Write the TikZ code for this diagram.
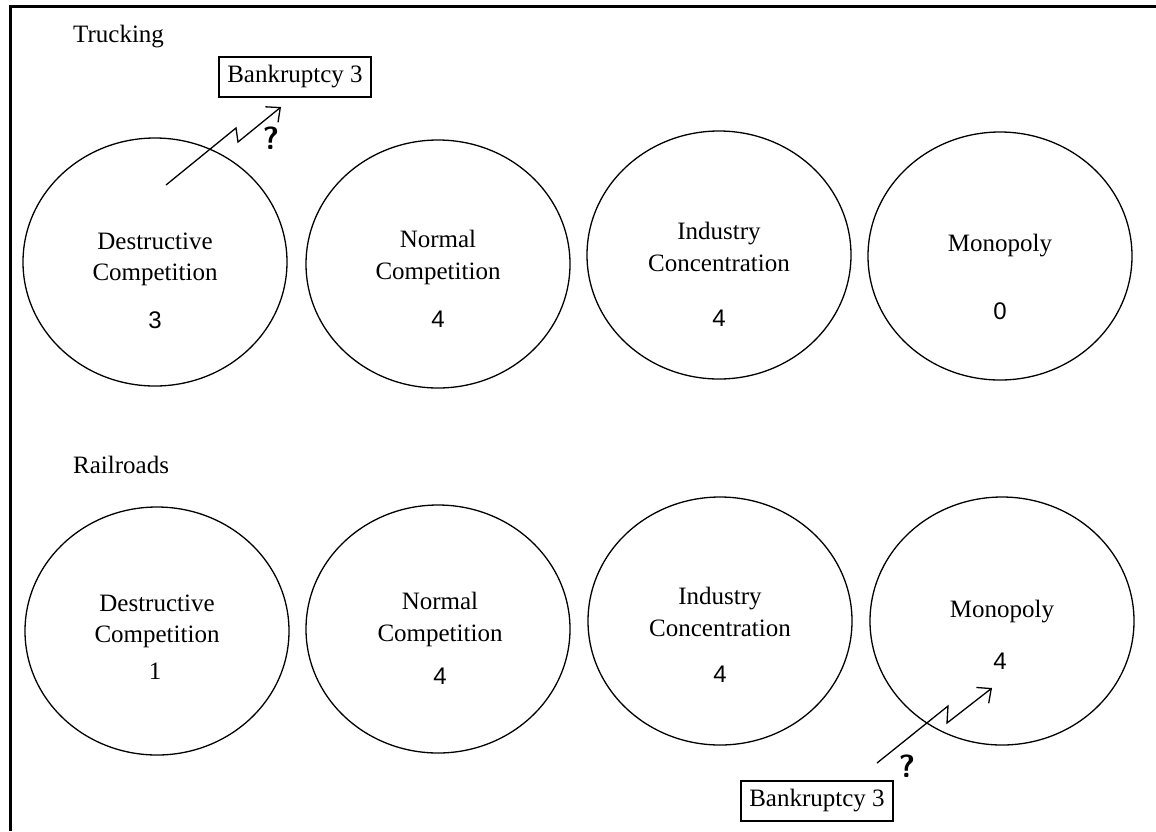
\documentclass[tikz,border=0pt]{standalone}
\usepackage{fontspec}
\setmainfont{Liberation Serif}
\newfontfamily\numfont{Liberation Sans}
\usetikzlibrary{shapes.geometric,arrows.meta}
\begin{document}
\begin{tikzpicture}[x=1pt,y=-1pt,
 market/.style={draw, ellipse, line width=1.3pt, minimum width=264pt, minimum height=248pt, inner sep=0pt},
 lbl/.style={font=\fontsize{25}{28}\selectfont, anchor=base, inner sep=0pt},
 num/.style={font=\numfont\fontsize{24}{28}\selectfont, anchor=base, inner sep=0pt},
 snum/.style={font=\fontsize{25}{28}\selectfont, anchor=base, inner sep=0pt},
 bbox/.style={draw, line width=1.3pt, minimum width=152pt, minimum height=40pt, font=\fontsize{25}{28}\selectfont, inner sep=0pt},
 bolt/.style={line width=1.3pt, -{Straight Barb[length=11pt,width=20pt,line width=1.3pt]}},
 qm/.style={font=\sffamily\bfseries\fontsize{32}{34}\selectfont, inner sep=0pt},
 section/.style={font=\fontsize{25}{28}\selectfont, anchor=base west, inner sep=0pt}
]
\useasboundingbox (0,0) rectangle (1156,831);
\coordinate (fr1) at (1156,6);
\coordinate (fr2) at (10.5,6);
\coordinate (fr3) at (10.5,831);
\draw[line width=3pt] (fr1) -- (fr2) -- (fr3);

% section titles
\node[section] (truck) at (73,42) {Trucking};
\node[section] (rail) at (73,473) {Railroads};

% top row
\node[market] (c1) at (155,262) {};
\node[market] (c2) at (438,264) {};
\node[market] (c3) at (719,255) {};
\node[market] (c4) at (1000,256) {};

\node[lbl] (c1a) at (155,249) {Destructive};
\node[lbl] (c1b) at (155,280) {Competition};
\node[num] (c1n) at (155,328) {3};

\node[lbl] (c2a) at (438,247) {Normal};
\node[lbl] (c2b) at (438,279) {Competition};
\node[num] (c2n) at (438,327) {4};

\node[lbl] (c3a) at (719,239) {Industry};
\node[lbl] (c3b) at (719,271) {Concentration};
\node[num] (c3n) at (719,326) {4};

\node[lbl] (c4a) at (1000,251) {Monopoly};
\node[num] (c4n) at (1000,319) {0};

% bottom row
\node[market] (d1) at (157,631) {};
\node[market] (d2) at (438,629) {};
\node[market] (d3) at (720,621) {};
\node[market] (d4) at (1002,621) {};

\node[lbl] (d1a) at (157,611) {Destructive};
\node[lbl] (d1b) at (157,642) {Competition};
\node[snum] (d1n) at (155,679) {1};

\node[lbl] (d2a) at (440,609) {Normal};
\node[lbl] (d2b) at (440,641) {Competition};
\node[num] (d2n) at (440,684) {4};

\node[lbl] (d3a) at (720,604) {Industry};
\node[lbl] (d3b) at (720,636) {Concentration};
\node[num] (d3n) at (720,682) {4};

\node[lbl] (d4a) at (1002,617) {Monopoly};
\node[num] (d4n) at (1000,669) {4};

% bankruptcy boxes
\node[bbox] (bk1) at (295,77) {Bankruptcy 3};
\node[bbox] (bk2) at (817,801) {Bankruptcy 3};

% lightning arrows
\coordinate (a0) at (166,185);
\coordinate (a1) at (236,128);
\coordinate (a2) at (238,142);
\coordinate (a3) at (281,107);
\draw[bolt] (a0) -- (a1) -- (a2) -- (a3);
\node[qm] (q1) at (271,138) {?};

\coordinate (b0) at (877,763);
\coordinate (b1) at (948,706);
\coordinate (b2) at (947,723);
\coordinate (b3) at (992,688);
\draw[bolt] (b0) -- (b1) -- (b2) -- (b3);
\node[qm] (q2) at (907,766) {?};
\end{tikzpicture}
\end{document}
